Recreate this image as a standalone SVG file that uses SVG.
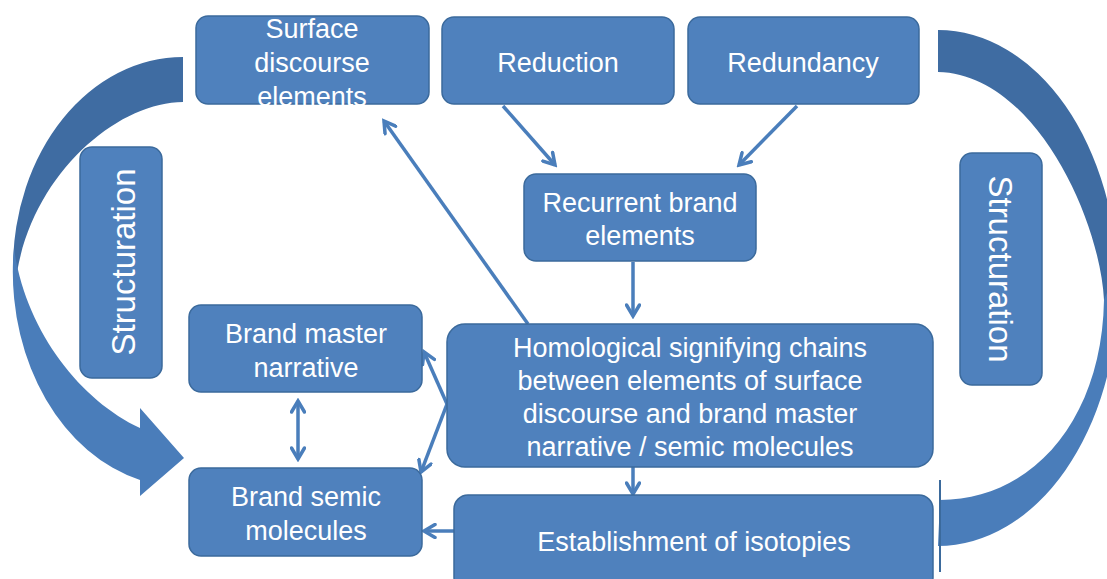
<svg xmlns="http://www.w3.org/2000/svg" width="1107" height="579" viewBox="0 0 1107 579">
  <style>
    .box { fill: #4F81BD; stroke: #3B6A9C; stroke-width: 1.5; }
    .lbl { fill: #FFFFFF; font-family: "Liberation Sans", Arial, sans-serif; font-size: 27px; text-anchor: middle; }
    .big { font-size: 33px; }
    .conn { fill: none; stroke: #4A7EBB; stroke-width: 3.5; }
    .back { fill: #3F6CA2; }
    .front { fill: #4A7DBA; }
  </style>
  <defs>
    <marker id="head" markerUnits="userSpaceOnUse" viewBox="0 0 16 16" markerWidth="16" markerHeight="16" refX="13" refY="8" orient="auto-start-reverse">
      <path d="M2,1.5 L13,8 L2,14.5" fill="none" stroke="#4A7EBB" stroke-width="3.5" stroke-linecap="round" stroke-linejoin="miter"/>
    </marker>
  </defs>
  <rect width="1107" height="579" fill="#FFFFFF"/>

  <!-- curved structuration arrows: darker back ribbon, lighter front ribbon -->
  <g id="structuration-arrows">
    <path class="back" d="M183,57 A170,211 0 0 0 13,268 L15,288 C25,180 115,102 183,102 Z"/>
    <path class="front" d="M13,262 A170,215 0 0 0 140,480 L140,496 L184,458 L140,408 L140,428 C80,400 25,330 14,248 Z"/>
    <path class="back" d="M938,30 A180,258 0 0 1 1118,288 L1118,300 L1104,300 C1100,220 1035,74 938,72 Z"/>
    <path class="front" d="M1118,288 A180,258 0 0 1 938,546 L940,500 C1032,500 1102,420 1104,300 L1108,290 Z"/>
    <line x1="940" y1="480" x2="940" y2="572" stroke="#3B6A9C" stroke-width="2"/>
  </g>

  <!-- connectors -->
  <g id="connectors">
    <line class="conn" x1="503" y1="106" x2="555" y2="165" marker-end="url(#head)"/>
    <line class="conn" x1="797" y1="106" x2="739" y2="165" marker-end="url(#head)"/>
    <line class="conn" x1="633" y1="262" x2="633" y2="316" marker-end="url(#head)"/>
    <line class="conn" x1="528" y1="324" x2="384" y2="121" marker-end="url(#head)"/>
    <line class="conn" x1="447" y1="404" x2="424" y2="352" marker-end="url(#head)"/>
    <line class="conn" x1="447" y1="404" x2="421" y2="472" marker-end="url(#head)"/>
    <line class="conn" x1="633" y1="467" x2="633" y2="494" marker-end="url(#head)"/>
    <line class="conn" x1="454" y1="531" x2="424" y2="531" marker-end="url(#head)"/>
    <line class="conn" x1="298" y1="401" x2="298" y2="459" marker-start="url(#head)" marker-end="url(#head)"/>
  </g>

  <g id="surface">
    <rect class="box" x="196" y="16" width="233" height="88" rx="12"/>
    <text class="lbl" x="312" y="38">Surface</text>
    <text class="lbl" x="312" y="72">discourse</text>
    <text class="lbl" x="312" y="106">elements</text>
  </g>
  <g id="reduction">
    <rect class="box" x="442" y="17" width="232" height="87" rx="12"/>
    <text class="lbl" x="558" y="72">Reduction</text>
  </g>
  <g id="redundancy">
    <rect class="box" x="688" y="17" width="231" height="87" rx="12"/>
    <text class="lbl" x="803" y="72">Redundancy</text>
  </g>
  <g id="recurrent">
    <rect class="box" x="524" y="174" width="232" height="87" rx="12"/>
    <text class="lbl" x="640" y="212">Recurrent brand</text>
    <text class="lbl" x="640" y="245">elements</text>
  </g>
  <g id="homological">
    <rect class="box" x="447" y="324" width="486" height="143" rx="18"/>
    <text class="lbl" x="690" y="357">Homological signifying chains</text>
    <text class="lbl" x="690" y="390">between elements of surface</text>
    <text class="lbl" x="690" y="423">discourse and brand master</text>
    <text class="lbl" x="690" y="456">narrative / semic molecules</text>
  </g>
  <g id="isotopies">
    <rect class="box" x="454" y="495" width="479" height="96" rx="14"/>
    <text class="lbl" x="694" y="551">Establishment of isotopies</text>
  </g>
  <g id="master-narrative">
    <rect class="box" x="189" y="305" width="233" height="87" rx="12"/>
    <text class="lbl" x="306" y="343">Brand master</text>
    <text class="lbl" x="306" y="377">narrative</text>
  </g>
  <g id="semic-molecules">
    <rect class="box" x="189" y="468" width="233" height="88" rx="12"/>
    <text class="lbl" x="306" y="506">Brand semic</text>
    <text class="lbl" x="306" y="540">molecules</text>
  </g>
  <g id="structuration-left">
    <rect class="box" x="80" y="147" width="82" height="231" rx="12"/>
    <text class="lbl big" transform="translate(135,262) rotate(-90)">Structuration</text>
  </g>
  <g id="structuration-right">
    <rect class="box" x="960" y="153" width="82" height="232" rx="12"/>
    <text class="lbl big" transform="translate(989,269) rotate(90)">Structuration</text>
  </g>
</svg>
